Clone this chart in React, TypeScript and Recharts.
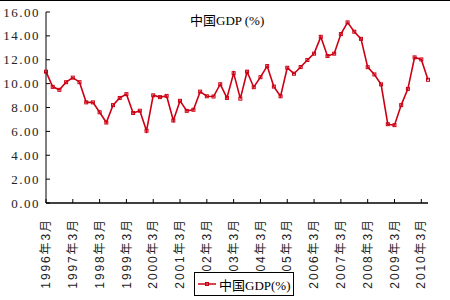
import React from 'react';
import { LineChart, Line, XAxis, YAxis, Legend } from 'recharts';

const years = [1996, 1997, 1998, 1999, 2000, 2001, 2002, 2003, 2004, 2005, 2006, 2007, 2008, 2009, 2010];
const months = [3, 6, 9, 12];
const gdpValues = [
  11.0, 9.73, 9.48, 10.12,
  10.5, 10.12, 8.43, 8.43,
  7.6, 6.74, 8.2, 8.8,
  9.12, 7.54, 7.73, 6.05,
  9.02, 8.87, 8.97, 6.91,
  8.56, 7.72, 7.81, 9.33,
  8.94, 8.92, 9.95, 8.8,
  10.88, 8.74, 11.0, 9.7,
  10.54, 11.47, 9.75, 8.94,
  11.33, 10.83, 11.39, 11.98,
  12.51, 13.92, 12.31, 12.51,
  14.15, 15.13, 14.35, 13.75,
  11.38, 10.77, 9.94, 6.6,
  6.52, 8.2, 9.56, 12.2,
  12.03, 10.32,
];
const yTicks = [0, 2, 4, 6, 8, 10, 12, 14, 16];
const seriesName = '中国GDP(%)';
const titleText = '中国GDP (%)';

const quarterLabels: string[] = [];
years.forEach((y) => months.forEach((m) => quarterLabels.push(`${y}年${m}月`)));
const data = gdpValues.map((v, i) => ({ label: quarterLabels[i], gdp: v }));

const RED = '#cc0014';

const YTick = (props: any) => {
  const { x, y, payload } = props;
  return (
    <g>
      <line x1={x} x2={x + 4} y1={y} y2={y} stroke="#000" strokeWidth={1} />
      <text x={x - 6} y={y} dy="0.35em" textAnchor="end" fontFamily="'Liberation Serif', serif" fontSize={13} letterSpacing={1.5} fill="#222">
        {Number(payload.value).toFixed(2)}
      </text>
    </g>
  );
};

const XTick = (props: any) => {
  const { x, y, payload } = props;
  return (
    <g>
      <line x1={x} x2={x} y1={y} y2={y - 4} stroke="#000" strokeWidth={1} />
      <text
        x={x}
        y={y + 15}
        dy="0.35em"
        textAnchor="end"
        transform={`rotate(-90, ${x}, ${y + 15})`}
        fontFamily="'Liberation Sans', 'Noto Sans CJK SC', sans-serif"
        fontSize={12}
        letterSpacing={1.9}
        fill="#222"
      >
        {payload.value}
      </text>
    </g>
  );
};

const SquareDot = (props: any) => {
  const { cx, cy, index } = props;
  if (cx == null || cy == null) return <g key={index} />;
  return <rect key={index} x={cx - 1.5} y={cy - 1.5} width={3} height={3} fill="none" stroke={RED} strokeWidth={1} />;
};

const LegendContent = () => (
  <div style={{ display: 'flex', alignItems: 'center', height: '100%' }}>
    <svg width={24} height={22}>
      <line x1={3} x2={21} y1={11} y2={11} stroke={RED} strokeWidth={1.5} />
      <rect x={10.5} y={9.5} width={3} height={3} fill="none" stroke={RED} strokeWidth={1} />
    </svg>
    <span style={{ fontFamily: "'Liberation Serif', 'Noto Sans CJK SC', serif", fontSize: 13, color: '#000', whiteSpace: 'nowrap' }}>
      {seriesName}
    </span>
  </div>
);

export default function App() {
  return (
    <div style={{ position: 'absolute', left: 0, top: 0, width: 450, height: 300, background: '#fff', overflow: 'hidden' }}>
      <div style={{ position: 'absolute', left: 0, top: 0, width: 450, height: 0, borderTop: '1px solid #000' }} />
      <div
        style={{
          position: 'absolute',
          left: 190,
          top: 10,
          fontFamily: "'Liberation Serif', 'Noto Sans CJK SC', serif",
          fontSize: 13,
          color: '#000',
          whiteSpace: 'nowrap',
          zIndex: 2,
        }}
      >
        {titleText}
      </div>
      <LineChart width={450} height={300} data={data} margin={{ top: 12, right: 22, left: 0, bottom: 0 }}>
        <XAxis
          dataKey="label"
          interval={3}
          height={97}
          tickSize={0}
          tickMargin={0}
          tickLine={false}
          axisLine={{ stroke: '#000', strokeWidth: 1.5 }}
          tick={<XTick />}
        />
        <YAxis
          domain={[0, 16]}
          ticks={yTicks}
          width={46}
          tickSize={0}
          tickMargin={0}
          tickLine={false}
          axisLine={{ stroke: '#000', strokeWidth: 1 }}
          tick={<YTick />}
          interval={0}
        />
        <Legend
          verticalAlign="middle"
          align="center"
          layout="horizontal"
          content={<LegendContent />}
          wrapperStyle={{
            position: 'absolute',
            left: 194,
            top: 272,
            width: 100,
            height: 24,
            border: '1px solid #000',
            background: '#fff',
            boxSizing: 'border-box',
          }}
        />
        <Line
          type="linear"
          dataKey="gdp"
          name={seriesName}
          stroke={RED}
          strokeWidth={1.6}
          dot={SquareDot}
          activeDot={false}
          isAnimationActive={false}
        />
      </LineChart>
    </div>
  );
}
